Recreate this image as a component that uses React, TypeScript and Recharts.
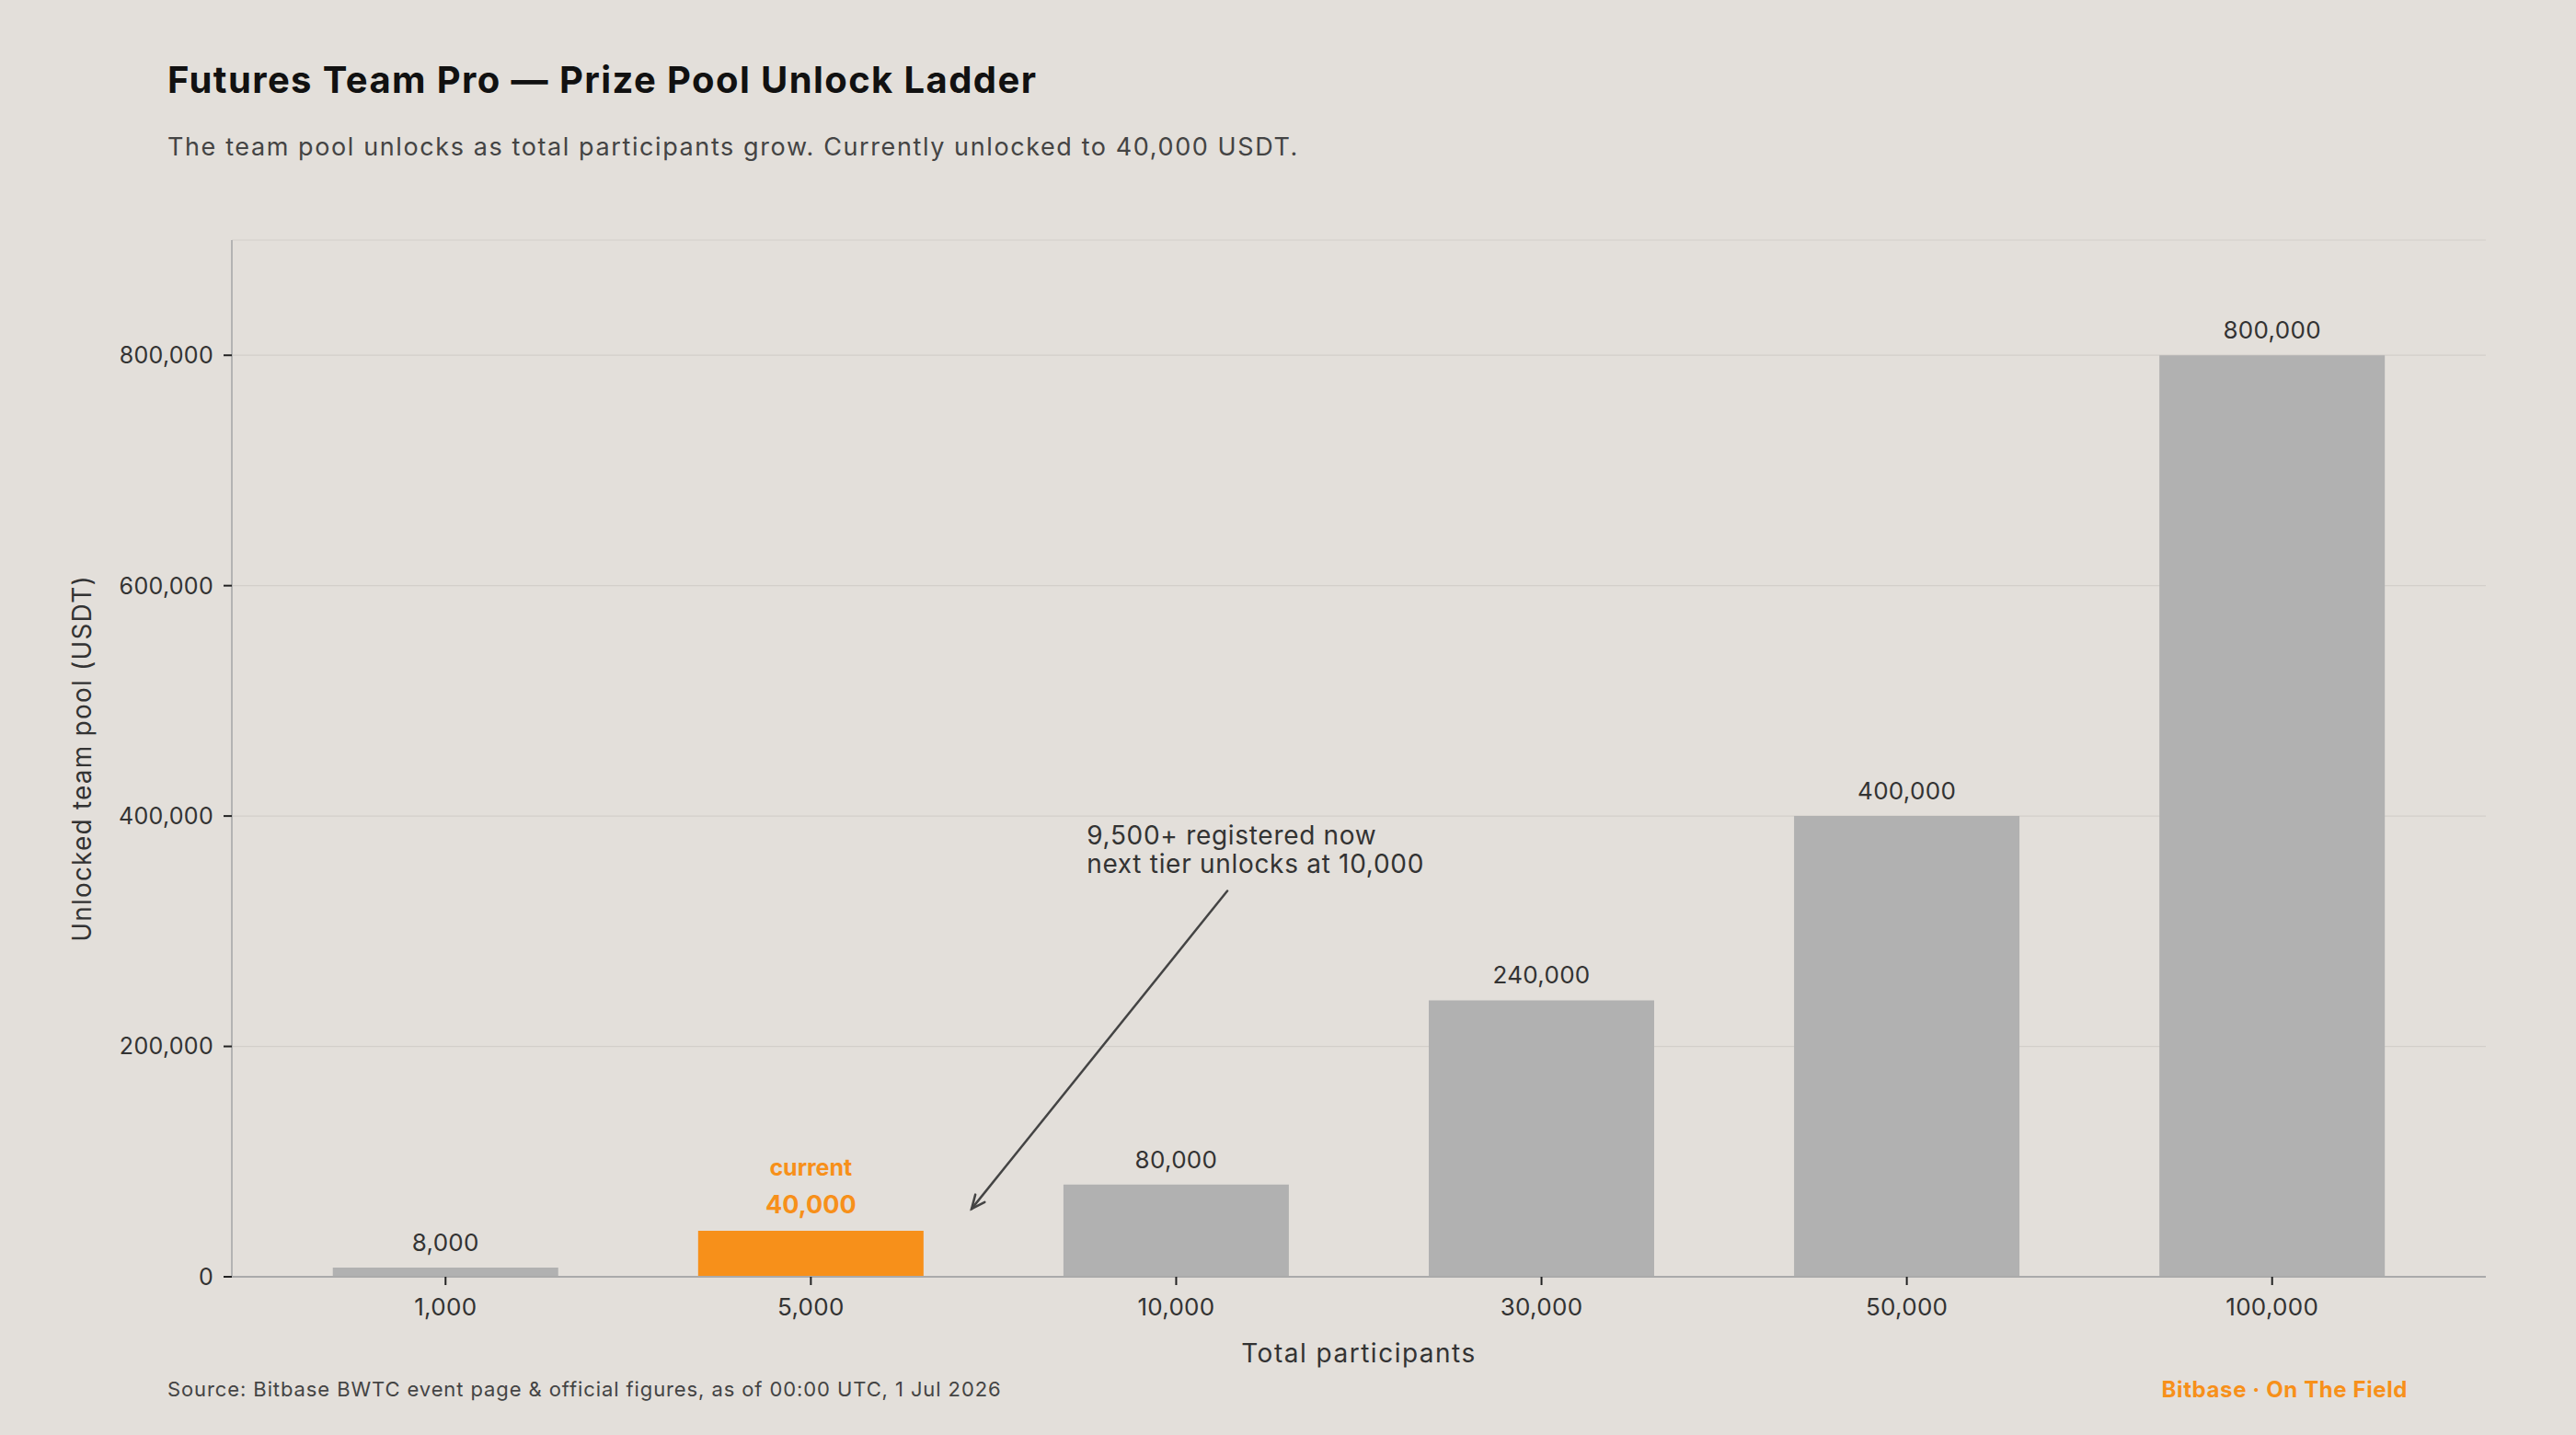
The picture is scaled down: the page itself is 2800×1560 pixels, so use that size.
import React from "react";
import {
  BarChart,
  Bar,
  Cell,
  XAxis,
  YAxis,
  CartesianGrid,
  LabelList,
  ReferenceLine,
  ReferenceDot,
} from "recharts";

// Unlock ladder: team pool (USDT) per participant threshold
const participants = ["1,000", "5,000", "10,000", "30,000", "50,000", "100,000"];
const poolUsdt = [8000, 40000, 80000, 240000, 400000, 800000];
const yTicks = [0, 200000, 400000, 600000, 800000];
const currentTier = 1;

// Callout: text anchor and arrow ends, in (tier index, USDT) units
const noteLines = ["9,500+ registered now", "next tier unlocks at 10,000"];
const noteAnchor = { x: 1.755, y: 375000 };
const arrowStart = { x: 2.14, y: 335000 };
const arrowEnd = { x: 1.44, y: 59000 };

const data = participants.map((p, i) => ({ idx: i, participants: p, pool: poolUsdt[i] }));

const BG = "#e3dfda";
const ORANGE = "#f7901a";
const GREY_BAR = "#b1b1b1";
const FONT = "Inter, 'Noto Sans', sans-serif";

const fmt = (v: number) => v.toLocaleString("en-US");

function ValueLabel(props: any) {
  const { x, y, width, value, index } = props;
  const cx = x + width / 2;
  if (index === currentTier) {
    return (
      <g fontFamily={FONT} fontWeight={700} fill={ORANGE} textAnchor="middle">
        <text x={cx} y={y - 19} fontSize={27}>{fmt(value)}</text>
        <text x={cx} y={y - 60} fontSize={25}>current</text>
      </g>
    );
  }
  return (
    <text x={cx} y={y - 18} textAnchor="middle" fontFamily={FONT} fontSize={26} fill="#333" letterSpacing={0.3}>
      {fmt(value)}
    </text>
  );
}

function Arrow(props: any) {
  const { x1, y1, x2, y2 } = props;
  const ang = Math.atan2(y2 - y1, x2 - x1);
  const len = 16;
  const spread = 0.42;
  const ax = x2 - len * Math.cos(ang - spread);
  const ay = y2 - len * Math.sin(ang - spread);
  const bx = x2 - len * Math.cos(ang + spread);
  const by = y2 - len * Math.sin(ang + spread);
  return (
    <g stroke="#444" strokeWidth={2.5} fill="none" strokeLinecap="round">
      <line x1={x1} y1={y1} x2={x2} y2={y2} />
      <polyline points={`${ax},${ay} ${x2},${y2} ${bx},${by}`} />
    </g>
  );
}

function NoteText(props: any) {
  const { cx, cy } = props;
  return (
    <text x={cx} y={cy} fontFamily={FONT} fontSize={28} fill="#333" letterSpacing={0.7}>
      {noteLines.map((line, i) => (
        <tspan key={i} x={cx} dy={i === 0 ? 0 : 31}>{line}</tspan>
      ))}
    </text>
  );
}

export default function App() {
  return (
    <div
      style={{
        position: "absolute",
        left: 0,
        top: 0,
        width: 2800,
        height: 1560,
        background: BG,
        fontFamily: FONT,
        overflow: "hidden",
      }}
    >
      <div
        style={{
          position: "absolute",
          left: 182,
          top: 62,
          fontSize: 40,
          fontWeight: 700,
          color: "#111",
          letterSpacing: 1.4,
          whiteSpace: "nowrap",
        }}
      >
        Futures Team Pro — Prize Pool Unlock Ladder
      </div>
      <div
        style={{
          position: "absolute",
          left: 182,
          top: 143,
          fontSize: 27,
          color: "#444",
          letterSpacing: 1.6,
          whiteSpace: "nowrap",
        }}
      >
        The team pool unlocks as total participants grow. Currently unlocked to 40,000 USDT.
      </div>

      <BarChart
        width={2800}
        height={1560}
        data={data}
        margin={{ top: 261, right: 98, bottom: 112, left: 112 }}
        style={{ position: "absolute", left: 0, top: 0 }}
      >
        <CartesianGrid vertical={false} stroke="#d3cfca" strokeWidth={1.2} />
        <XAxis
          dataKey="idx"
          type="number"
          domain={[-0.585, 5.585]}
          ticks={[0, 1, 2, 3, 4, 5]}
          tickFormatter={(i: number) => participants[i]}
          height={60}
          stroke="#aaa"
          strokeWidth={2}
          tickSize={9}
          tickMargin={15}
          tick={{ fill: "#333", fontSize: 26, fontFamily: FONT, letterSpacing: 0.3 }}
          tickLine={{ stroke: "#222", strokeWidth: 2 }}
          label={{
            content: (p: any) => {
              const vb = p.viewBox;
              return (
                <text
                  x={vb.x + vb.width / 2}
                  y={1481}
                  textAnchor="middle"
                  fontFamily={FONT}
                  fontSize={28}
                  fill="#333"
                  letterSpacing={1.5}
                >
                  Total participants
                </text>
              );
            },
          }}
        />
        <YAxis
          domain={[0, 900000]}
          ticks={yTicks}
          tickFormatter={fmt}
          width={140}
          stroke="#b3b3b3"
          strokeWidth={2}
          tickSize={9}
          tickMargin={11}
          tick={{ fill: "#333", fontSize: 25, fontFamily: FONT, letterSpacing: 0.3 }}
          tickLine={{ stroke: "#222", strokeWidth: 2 }}
          label={{
            content: (p: any) => {
              const vb = p.viewBox;
              const cy = vb.y + vb.height / 2;
              return (
                <text
                  x={89}
                  y={cy}
                  transform={`rotate(-90 89 ${cy})`}
                  textAnchor="middle"
                  dominantBaseline="central"
                  fontFamily={FONT}
                  fontSize={28}
                  fill="#333"
                  letterSpacing={1.2}
                >
                  Unlocked team pool (USDT)
                </text>
              );
            },
          }}
        />
        <Bar dataKey="pool" barSize={245} isAnimationActive={false}>
          {data.map((d) => (
            <Cell key={d.idx} fill={d.idx === currentTier ? ORANGE : GREY_BAR} />
          ))}
          <LabelList dataKey="pool" content={ValueLabel} />
        </Bar>
        <ReferenceLine
          segment={[
            { x: arrowStart.x, y: arrowStart.y },
            { x: arrowEnd.x, y: arrowEnd.y },
          ]}
          shape={Arrow}
        />
        <ReferenceDot x={noteAnchor.x} y={noteAnchor.y} r={0} shape={NoteText} />
      </BarChart>

      <div
        style={{
          position: "absolute",
          left: 182,
          top: 1497,
          fontSize: 22,
          color: "#444",
          letterSpacing: 0.9,
          whiteSpace: "nowrap",
        }}
      >
        Source: Bitbase BWTC event page &amp; official figures, as of 00:00 UTC, 1 Jul 2026
      </div>
      <div
        style={{
          position: "absolute",
          right: 2800 - 2617,
          top: 1496,
          fontSize: 24,
          fontWeight: 700,
          color: ORANGE,
          letterSpacing: 0.6,
          whiteSpace: "nowrap",
        }}
      >
        Bitbase · On The Field
      </div>
    </div>
  );
}
